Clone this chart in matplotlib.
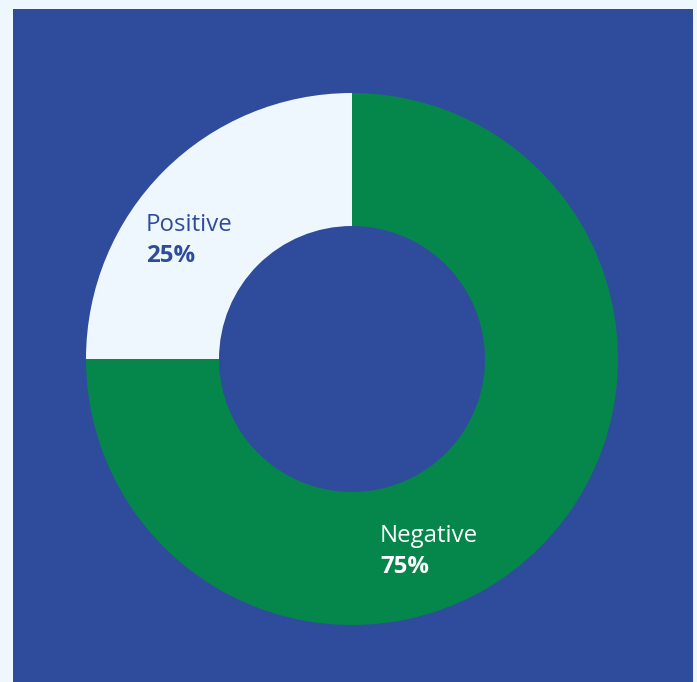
import matplotlib
matplotlib.use("Agg")
import matplotlib.pyplot as plt
from matplotlib.patches import Rectangle

labels = ["Positive", "Negative"]
values = [25, 75]
pct_labels = ["25%", "75%"]

BG = "#EFF7FE"
BLUE = "#2F4C9C"
GREEN = "#05874B"
LIGHT = "#EFF7FE"

plt.rcParams['font.family'] = ['Open Sans', 'DejaVu Sans']

fig = plt.figure(figsize=(6.97, 6.82), dpi=100, facecolor=BG)
ax = fig.add_axes([0, 0, 1, 1])
ax.set_facecolor(BG)
ax.add_patch(Rectangle((13, 0), 680, 673, facecolor=BLUE, edgecolor="none", zorder=0))

ax.pie(values, colors=[LIGHT, GREEN], startangle=90, counterclock=True,
       center=(352, 323), radius=266, frame=True,
       wedgeprops=dict(width=133, edgecolor="none", linewidth=0))

ax.set_xlim(0, 697)
ax.set_ylim(0, 682)
ax.axis("off")

fs = 17.3
ax.text(146, 451, labels[0], color=BLUE, fontsize=fs, ha="left", va="baseline")
ax.text(146, 420, pct_labels[0], color=BLUE, fontsize=fs, fontweight="bold", ha="left", va="baseline")
ax.text(380, 140, labels[1], color="white", fontsize=fs, ha="left", va="baseline")
ax.text(380, 109, pct_labels[1], color="white", fontsize=fs, fontweight="bold", ha="left", va="baseline")

fig.savefig("out.png", dpi=100, facecolor=BG)
